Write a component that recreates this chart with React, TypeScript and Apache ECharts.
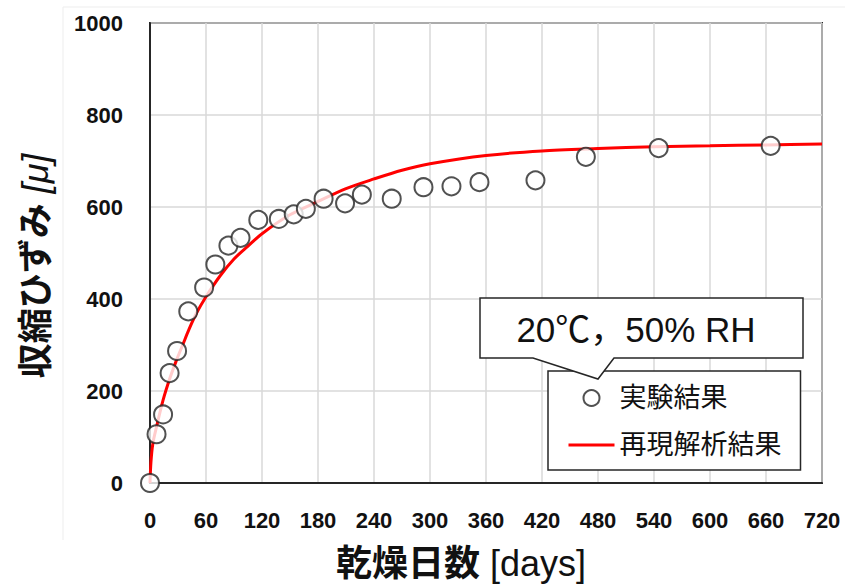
import React, { useEffect, useRef } from "react";
import * as echarts from "echarts";

// 実験結果: 乾燥日数 [days] と収縮ひずみ [μ]
const measuredDays = [0, 7, 14, 21, 29, 41, 58, 70, 84, 97, 116, 138, 154, 167, 186, 209, 227, 259, 293, 323, 353, 413, 467, 545, 665];
const measuredStrain = [0, 106, 149, 239, 287, 373, 425, 475, 516, 533, 572, 574, 584, 596, 618, 608, 627, 618, 643, 645, 654, 658, 709, 728, 733];

// 再現解析結果
const analysisDays = [0, 1, 3, 7, 14, 21, 28, 35, 42, 50, 60, 75, 90, 105, 120, 150, 180, 210, 240, 270, 300, 360, 420, 480, 540, 600, 660, 720];
const analysisStrain = [0, 45, 85, 122, 180, 226, 265, 300, 335, 370, 405, 450, 487, 515, 542, 583, 612, 640, 661, 680, 694, 712, 722, 727, 731, 733, 735, 737];

const xTicks = [0, 60, 120, 180, 240, 300, 360, 420, 480, 540, 600, 660, 720];
const yTicks = [0, 200, 400, 600, 800, 1000];

const seriesNames = ["実験結果", "再現解析結果"];
const conditionLabel = "20℃，50% RH";

const FONT = "'Liberation Sans', 'Noto Sans CJK JP', sans-serif";

export default function App() {
  const ref = useRef<HTMLDivElement>(null);

  useEffect(() => {
    if (!ref.current) return;
    const chart = echarts.init(ref.current, undefined, { renderer: "svg" });

    const pair = (xs: number[], ys: number[]) => xs.map((x, i) => [x, ys[i]]);

    chart.setOption({
      animation: false,
      backgroundColor: "#fff",
      textStyle: { fontFamily: FONT },
      grid: {
        left: 150,
        right: 23,
        top: 23,
        bottom: 103,
        show: true,
        borderColor: "#262626",
        borderWidth: 2,
      },
      xAxis: {
        type: "value",
        min: xTicks[0],
        max: xTicks[xTicks.length - 1],
        interval: xTicks[1] - xTicks[0],
        axisLine: { show: true, lineStyle: { color: "#262626", width: 2 } },
        axisTick: { show: false },
        splitLine: { show: true, lineStyle: { color: "#d9d9d9", width: 1.5 } },
        axisLabel: {
          margin: 26,
          fontSize: 22,
          fontWeight: "bold",
          color: "#111",
          fontFamily: FONT,
          formatter: (v: number) => String(v),
        },
        name: "{b|乾燥日数}{s| }{n|[days]}",
        nameLocation: "middle",
        nameGap: 62,
        nameTextStyle: {
          padding: [0, 50, 0, 0],
          rich: {
            b: { fontSize: 36, fontWeight: "bold", color: "#111", fontFamily: FONT },
            s: { fontSize: 36, width: 10 },
            n: { fontSize: 36, color: "#111", fontFamily: FONT },
          },
        },
      },
      yAxis: {
        type: "value",
        min: yTicks[0],
        max: yTicks[yTicks.length - 1],
        interval: yTicks[1] - yTicks[0],
        axisLine: { show: true, lineStyle: { color: "#262626", width: 2 } },
        axisTick: { show: false },
        splitLine: { show: true, lineStyle: { color: "#d9d9d9", width: 1.5 } },
        axisLabel: {
          margin: 27,
          fontSize: 22,
          fontWeight: "bold",
          color: "#111",
          fontFamily: FONT,
          formatter: (v: number) => String(v),
        },
        name: "{b|収縮ひずみ}{s| }{n|[μ]}",
        nameLocation: "middle",
        nameRotate: 90,
        nameGap: 97,
        nameTextStyle: {
          padding: [0, 26, 0, 0],
          rich: {
            b: { fontSize: 35, fontWeight: "bold", color: "#111", fontFamily: FONT },
            s: { fontSize: 35, width: 10 },
            n: { fontSize: 36, fontStyle: "italic", color: "#111", fontFamily: FONT },
          },
        },
      },
      legend: {
        orient: "vertical",
        left: 548,
        top: 371,
        padding: [12, 19, 10, 19],
        itemGap: 17,
        itemWidth: 46,
        itemHeight: 16,
        backgroundColor: "#fff",
        borderColor: "#262626",
        borderWidth: 1.5,
        borderRadius: 0,
        z: 20,
        textStyle: { fontSize: 27, lineHeight: 30, color: "#111", fontFamily: FONT },
        data: [
          {
            name: seriesNames[0],
            icon: "circle",
            itemStyle: { color: "#fff", borderColor: "#262626", borderWidth: 2 },
          },
          {
            name: seriesNames[1],
            itemStyle: { opacity: 0 },
            lineStyle: { color: "#ff0000", width: 3 },
          },
        ],
      },
      graphic: [
        {
          type: "line",
          shape: { x1: 63, y1: 7, x2: 845, y2: 7 },
          style: { stroke: "#ededed", lineWidth: 1 },
          z: 0,
          silent: true,
        },
        {
          type: "line",
          shape: { x1: 63, y1: 7, x2: 63, y2: 540 },
          style: { stroke: "#ededed", lineWidth: 1 },
          z: 0,
          silent: true,
        },
        {
          type: "polygon",
          shape: {
            points: [
              [480, 298],
              [803, 298],
              [803, 358],
              [614, 358],
              [598, 379],
              [533, 358],
              [480, 358],
            ],
          },
          style: { fill: "#fff", stroke: "#262626", lineWidth: 1.5 },
          z: 100,
          silent: true,
        },
        {
          type: "text",
          x: 636,
          y: 329,
          style: {
            text: conditionLabel,
            fontSize: 35,
            fontFamily: FONT,
            fill: "#111",
            align: "center",
            verticalAlign: "middle",
          },
          z: 101,
          silent: true,
        },
      ],
      series: [
        {
          name: seriesNames[1],
          type: "line",
          data: pair(analysisDays, analysisStrain),
          symbol: "none",
          smooth: 0.3,
          lineStyle: { color: "#ff0000", width: 3 },
          itemStyle: { color: "#ff0000" },
          z: 2,
        },
        {
          name: seriesNames[0],
          type: "scatter",
          data: pair(measuredDays, measuredStrain),
          symbol: "circle",
          symbolSize: 18,
          itemStyle: { color: "#fff", borderColor: "#262626", borderWidth: 2 },
          z: 3,
        },
      ],
    });

    return () => chart.dispose();
  }, []);

  return (
    <div
      ref={ref}
      style={{ position: "absolute", left: 0, top: 0, width: 845, height: 586 }}
    />
  );
}
